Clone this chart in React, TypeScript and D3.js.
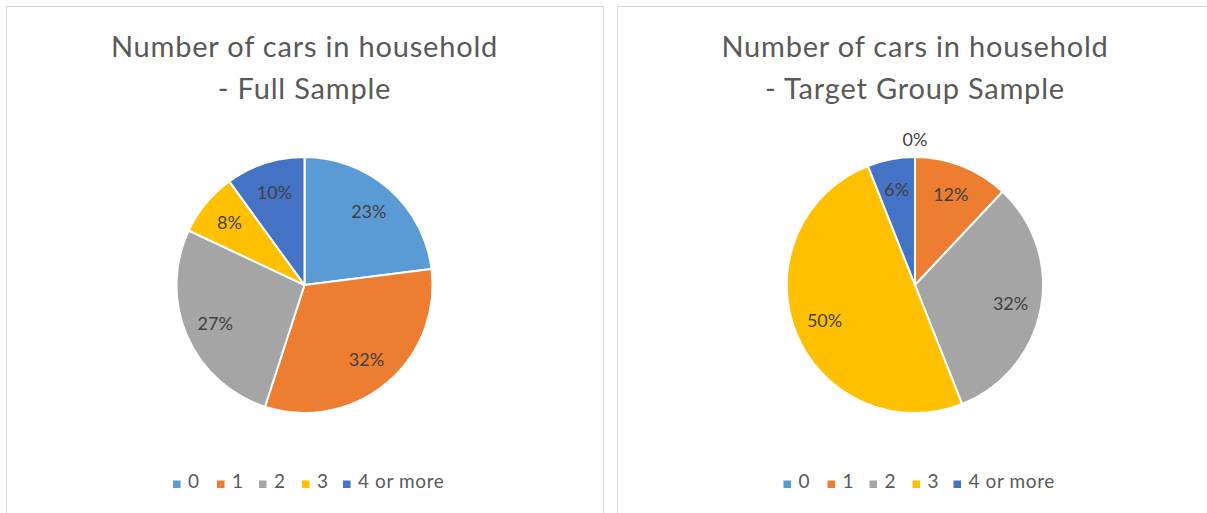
import React from "react";
import * as d3 from "d3";

const categories = ["0", "1", "2", "3", "4 or more"];
const fullSample = [23, 32, 27, 8, 10];
const targetSample = [0, 12, 32, 50, 6];
const titles = [
  ["Number of cars in household", "- Full Sample"],
  ["Number of cars in household", "- Target Group Sample"],
];
const colors = ["#5B9BD5", "#ED7D31", "#A5A5A5", "#FFC000", "#4472C4"];

const W = 1207;
const H = 513;
const FONT = "Lato, 'Open Sans', sans-serif";

function PiePanel({ values, title, x0, x1 }: { values: number[]; title: string[]; x0: number; x1: number }) {
  const cx = (x0 + x1) / 2;
  const cy = 285;
  const R = 128;
  const color = d3.scaleOrdinal<string, string>(categories, colors);
  const pie = d3
    .pie<number>()
    .sort(null)
    .value((d) => d);
  const arcs = pie(values);
  const arc = d3.arc<d3.PieArcDatum<number>>().innerRadius(0).outerRadius(R);
  const labelArc = d3.arc<d3.PieArcDatum<number>>().innerRadius(R * 0.76).outerRadius(R * 0.76);

  // legend item offsets from the first square
  const offsets = [0, 44, 86, 129, 170];

  return (
    <g>
      <rect x={x0 + 0.5} y={6.5} width={x1 - x0} height={H + 20} fill="#fff" stroke="#D9D9D9" />
      {title.map((t, i) => (
        <text
          key={i}
          x={cx}
          y={57 + i * 42}
          textAnchor="middle"
          fontSize={29}
          letterSpacing={0.8}
          fill="#595959"
          fontFamily={FONT}
        >
          {t}
        </text>
      ))}
      <g transform={`translate(${cx},${cy})`}>
        {arcs.map((a, i) => (
          <path key={i} d={arc(a) || ""} fill={color(categories[i])} stroke="#fff" strokeWidth={2} strokeLinejoin="round" />
        ))}
        {arcs.map((a, i) => {
          let [lx, ly] = labelArc.centroid(a);
          if (a.data === 0) {
            // zero slices get their label just outside the pie
            const ang = a.startAngle;
            lx = Math.sin(ang) * (R + 17);
            ly = -Math.cos(ang) * (R + 17);
          }
          return (
            <text key={i} x={lx} y={ly} dy="0.35em" textAnchor="middle" fontSize={18} fill="#404040" fontFamily={FONT}>
              {a.data}%
            </text>
          );
        })}
      </g>
      <g transform={`translate(${cx - 131.5},488)`}>
        {categories.map((c, i) => (
          <g key={c} transform={`translate(${offsets[i]},0)`}>
            <rect x={0} y={-7.5} width={7.5} height={7.5} fill={color(c)} />
            <text x={15} y={0} fontSize={19} letterSpacing={0.6} fill="#595959" fontFamily={FONT}>
              {c}
            </text>
          </g>
        ))}
      </g>
    </g>
  );
}

export default function App() {
  return (
    <svg width={W} height={H} style={{ position: "absolute", left: 0, top: 0, background: "#fff" }}>
      <rect width={W} height={H} fill="#fff" />
      <PiePanel values={fullSample} title={titles[0]} x0={6} x1={603} />
      <PiePanel values={targetSample} title={titles[1]} x0={617} x1={1213} />
    </svg>
  );
}
